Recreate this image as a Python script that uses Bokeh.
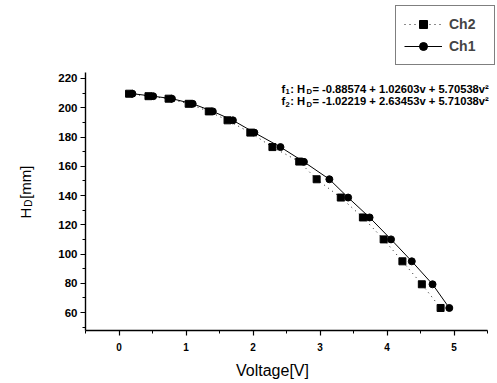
from bokeh.plotting import figure
from bokeh.models import Range1d, Label, Legend, LegendItem, FixedTicker, LinearAxis
from bokeh.embed import file_html
from bokeh.resources import INLINE

# ---- data ----
voltage_ch2 = [0.15, 0.44, 0.74, 1.04, 1.34, 1.62, 1.96, 2.29, 2.69, 2.95, 3.31, 3.64, 3.95, 4.23, 4.52, 4.80]
hd_ch2 = [209.6, 207.9, 206.2, 202.7, 197.5, 191.4, 183.0, 173.1, 163.2, 151.1, 138.6, 125.0, 110.0, 95.0, 79.3, 63.1]
voltage_ch1 = [0.20, 0.51, 0.79, 1.10, 1.40, 1.70, 2.02, 2.41, 2.76, 3.14, 3.42, 3.74, 4.06, 4.37, 4.68, 4.93]
hd_ch1 = [209.6, 207.9, 206.2, 202.7, 197.5, 191.4, 183.0, 173.1, 163.0, 151.1, 138.6, 125.0, 110.0, 95.0, 79.3, 63.1]

x_ticks = [0, 1, 2, 3, 4, 5]
x_minor = [-0.5, 0.5, 1.5, 2.5, 3.5, 4.5, 5.5]
y_ticks = [60, 80, 100, 120, 140, 160, 180, 200, 220]
y_minor = [50, 70, 90, 110, 130, 150, 170, 190, 210]

fit1 = ["f", "1", ": H", "D", "= -0.88574 + 1.02603v + 5.70538v\u00b2"]
fit2 = ["f", "2", ": H", "D", "= -1.02219 + 2.63453v + 5.71038v\u00b2"]

# ---- layout (axes box inside the canvas, in pixels) ----
W, H = 497, 383
FL, FR, FT, FB = 85, 487, 72, 330
X0, X1 = -0.5, 5.5
Y0, Y1 = 47.7, 224.1
FONT = "Liberation Sans"

kx = (X1 - X0) / (FR - FL)
ky = (Y1 - Y0) / (FB - FT)


def dx(px):
    return X0 + (px - FL) * kx


def dy(py):
    return Y0 + (FB - py) * ky


p = figure(width=W, height=H,
           x_range=Range1d(dx(0), dx(W)), y_range=Range1d(dy(H), dy(0)),
           output_backend="svg", toolbar_location=None,
           min_border=0, x_axis_location=None, y_axis_location=None)
p.outline_line_color = None
p.xgrid.visible = False
p.ygrid.visible = False
p.background_fill_color = "white"
p.border_fill_color = "white"

xaxis = LinearAxis(fixed_location=Y0, bounds=(X0, X1))
yaxis = LinearAxis(fixed_location=X0, bounds=(Y0, Y1))
p.add_layout(xaxis, "below")
p.add_layout(yaxis, "left")

for ax in (xaxis, yaxis):
    ax.axis_line_color = "black"
    ax.axis_line_width = 1.4
    ax.major_tick_line_color = "black"
    ax.minor_tick_line_color = "black"
    ax.major_tick_line_width = 1.2
    ax.minor_tick_line_width = 1
    ax.major_tick_in = 0
    ax.major_tick_out = 5
    ax.minor_tick_in = 0
    ax.minor_tick_out = 3
    ax.major_label_text_font = FONT
    ax.major_label_text_font_style = "bold"
    ax.major_label_text_color = "black"

xaxis.ticker = FixedTicker(ticks=x_ticks, minor_ticks=x_minor)
yaxis.ticker = FixedTicker(ticks=y_ticks, minor_ticks=y_minor)
xaxis.major_label_text_font_size = "10px"
yaxis.major_label_text_font_size = "11.5px"
xaxis.major_label_standoff = 7
yaxis.major_label_standoff = 3

# ---- series ----
l2 = p.line(voltage_ch2, hd_ch2, line_color="black", line_width=0.9, line_dash="1 4")
s2 = p.scatter(voltage_ch2, hd_ch2, marker="square", size=7, fill_color="black", line_color="black")
l1 = p.line(voltage_ch1, hd_ch1, line_color="black", line_width=1)
s1 = p.scatter(voltage_ch1, hd_ch1, marker="circle", size=7, fill_color="black", line_color="black")

legend = Legend(items=[LegendItem(label="Ch2", renderers=[l2, s2]),
                       LegendItem(label="Ch1", renderers=[l1, s1])],
                location=(395, H - 65))
legend.border_line_color = "black"
legend.border_line_width = 1
legend.background_fill_color = "white"
legend.background_fill_alpha = 1
legend.padding = 8
legend.spacing = 2
legend.margin = 0
legend.glyph_width = 38
legend.glyph_height = 20
legend.label_height = 20
legend.label_width = 37
legend.label_standoff = 7
legend.label_text_font = FONT
legend.label_text_font_size = "14px"
legend.label_text_font_style = "bold"
legend.label_text_baseline = "middle"
p.add_layout(legend, "center")

# ---- text helpers ----
em = {"f": 0.333, ":": 0.333, " ": 0.278, "H": 0.722, "D": 0.722, "C": 0.722, "=": 0.584,
      "-": 0.333, ".": 0.278, "+": 0.584, "v": 0.556, "[": 0.278, "]": 0.278, "m": 0.833}
STRETCH = 1.09


def width(s, size):
    return sum(em.get(c, 0.556) for c in s) * size * STRETCH


# ---- axis titles ----
p.add_layout(Label(x=dx(272), y=dy(370), text="Voltage[V]", text_font=FONT,
                   text_font_size="16px", text_align="center", text_baseline="middle",
                   text_color="black"))
TBIG, TSMALL = 15, 10
title_parts = [("H", TBIG, 0), ("D", TSMALL, 3), ("[mm]", TBIG, 0)]
total = sum(width(t, s) for t, s, _ in title_parts)
ypos = 190 + total / 2
for txt, size, shift in title_parts:
    p.add_layout(Label(x=dx(25 + shift), y=dy(ypos), text=txt, angle=90, angle_units="deg",
                       text_font=FONT, text_font_size=f"{size}px", text_align="left",
                       text_baseline="alphabetic", text_color="black"))
    ypos -= width(txt, size)

# ---- fit annotations ----
BIG, SMALL = 11.2, 7.6


def fit_line(parts, x_start, baseline):
    x = x_start
    specs = [(BIG, 0), (SMALL, 3), (BIG, 0), (SMALL, 3), (BIG, 0)]
    for txt, (size, shift) in zip(parts, specs):
        p.add_layout(Label(x=dx(x), y=dy(baseline + shift), text=txt, text_font=FONT,
                           text_font_size=f"{size}px", text_font_style="bold",
                           text_align="left", text_baseline="alphabetic",
                           text_color="black"))
        x += width(txt, size)


fit_line(fit1, 281, 88)
fit_line(fit2, 281, 100.5)

open("out.html", "w").write(file_html(p, INLINE))
